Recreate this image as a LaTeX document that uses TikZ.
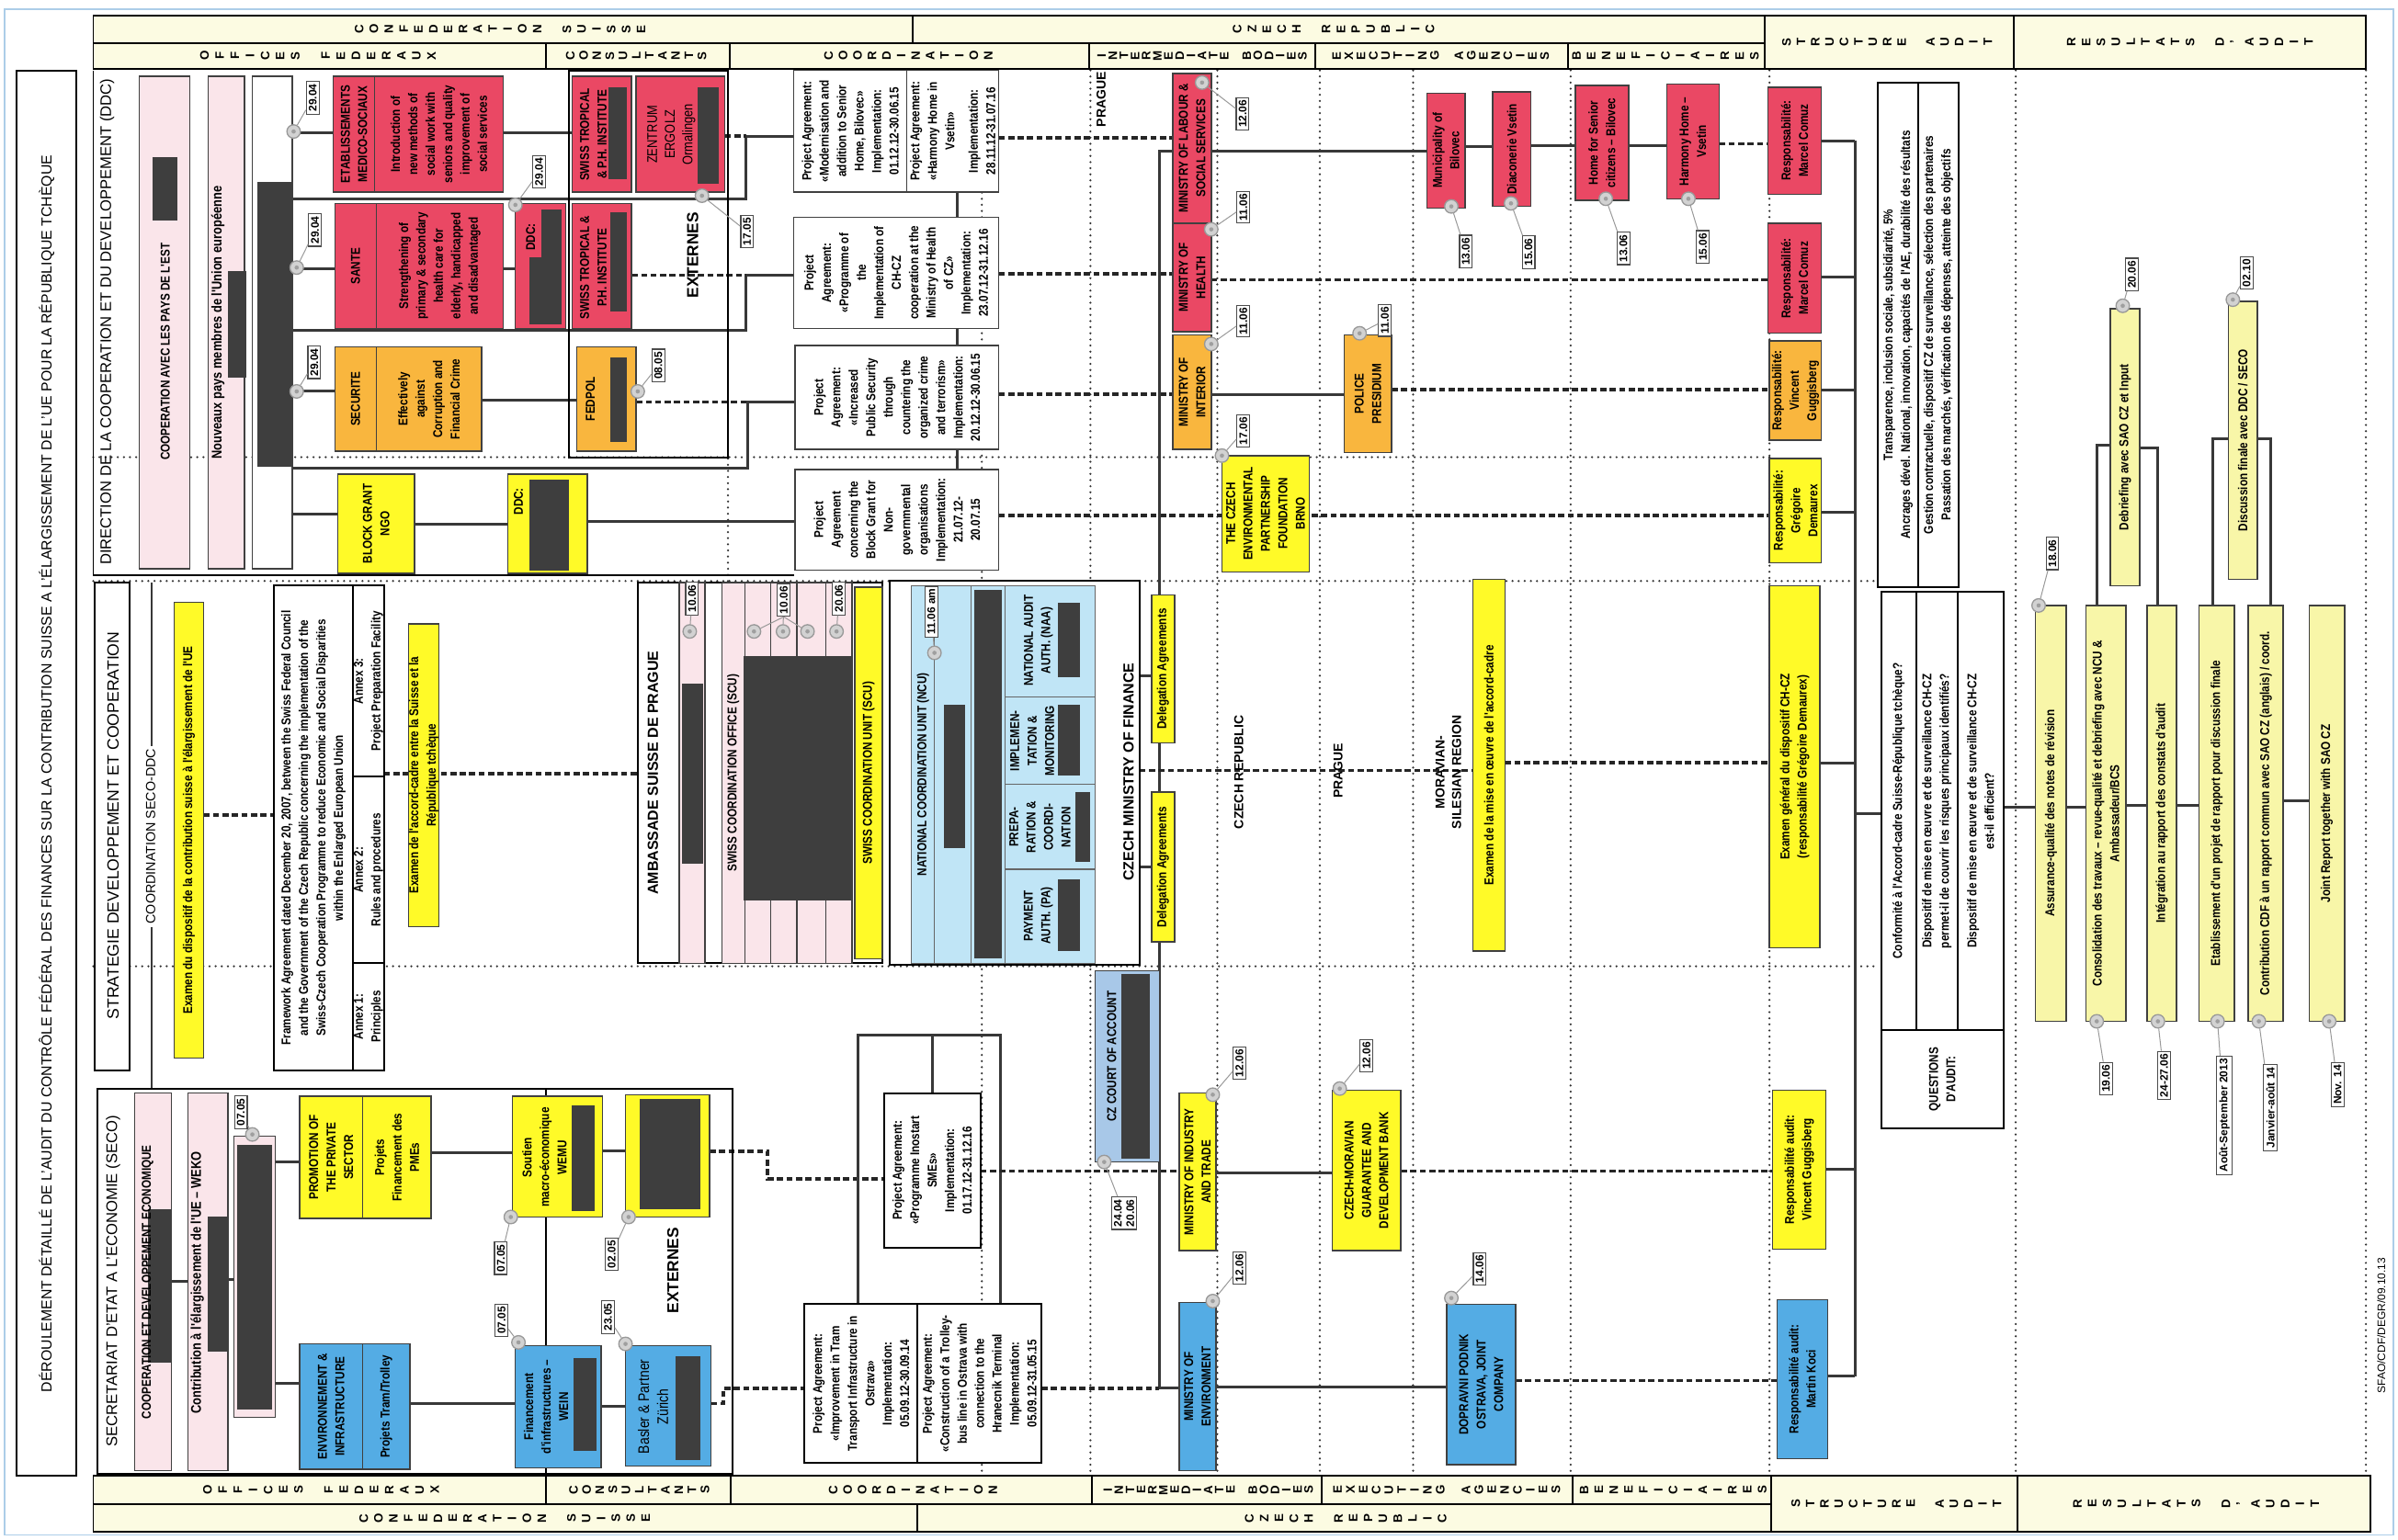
\documentclass[tikz,border=0pt]{standalone}
\usepackage{fontspec}
\setmainfont{Liberation Sans}
\newfontfamily\narrow[FakeStretch=0.84]{Liberation Sans}
\usetikzlibrary{fit}
\pgfdeclarelayer{bg}
\pgfsetlayers{bg,main}

\definecolor{hdrfill}{RGB}{252,251,226}
\definecolor{redfill}{RGB}{234,72,100}
\definecolor{orgfill}{RGB}{249,182,62}
\definecolor{yelfill}{RGB}{255,250,40}
\definecolor{palefill}{RGB}{248,246,168}
\definecolor{bluefill}{RGB}{84,172,228}
\definecolor{ltblue}{RGB}{192,229,246}
\definecolor{pinkfill}{RGB}{250,229,234}
\definecolor{courtfill}{RGB}{168,200,232}
\definecolor{redact}{RGB}{62,62,62}
\definecolor{scanblue}{RGB}{172,205,232}

\tikzset{
  frame/.style={draw=black, line width=0.6pt},
  hdrcell/.style={draw=black, line width=0.6pt, fill=hdrfill},
  hletter/.style={rotate=90, inner sep=0pt, font=\bfseries\fontsize{4}{4.4}\selectfont},
  bx/.style={draw=black!75, line width=0.45pt, inner sep=0pt, outer sep=0pt},
  grp/.style={draw=black, line width=0.6pt, fill=white},
  txt/.style={rotate=90, align=center, inner sep=0pt, font=\narrow\bfseries\fontsize{4.2}{5.7}\selectfont},
  big/.style={rotate=90, inner sep=0pt, font=\bfseries\fontsize{4.8}{5.5}\selectfont},
  band/.style={rotate=90, inner sep=0pt, font=\fontsize{5}{5.5}\selectfont},
  conn/.style={draw=black!78, line width=0.9pt},
  dconn/.style={draw=black!85, line width=1.1pt, dash pattern=on 2pt off 1.1pt},
  grid/.style={draw=black!80, line width=0.75pt, line cap=round, dash pattern=on 0pt off 2pt},
  thinl/.style={draw=black!60, line width=0.4pt},
  tack/.style={circle, draw=gray!80, fill=gray!35, line width=0.4pt, minimum size=4.4pt, inner sep=0pt,
    path picture={\fill[gray!75] (path picture bounding box.center) circle (0.7pt);}},
  datebox/.style={rotate=90, draw=black!70, fill=white, line width=0.35pt, inner sep=0.8pt,
    align=center, font=\bfseries\fontsize{3.6}{4}\selectfont},
  leader/.style={draw=gray!80, line width=0.3pt},
}

% box spanning two corners, with its text rotated at the centre
\newcommand\bx[5][]{%
  \node[bx,#1,fit={(#3) (#4)}] (#2) {};
  \node[txt] (#2-t) at (#2.center) {#5};}
% push pin with its date label
\newcommand\tackdate[6]{%
  \node[tack] (#1p) at (#2,#3) {};
  \node[datebox] (#1d) at (#4,#5) {#6};
  \draw[leader] (#1p) -- (#1d);}
% spaced, turned header letters
\newcommand\hdrtext[5]{%
  \foreach \c [count=\i] in {#5} {\xdef\hdrn{\i}}%
  \foreach \c [count=\i] in {#5}
    \node[hletter] (#1\i) at ({#2+(\i-(\hdrn+1)/2)*#4},#3) {\c};}

\begin{document}
\begin{tikzpicture}[x=0.5pt, y=-0.5pt]
\useasboundingbox (0,0) rectangle (1568,1007);

\draw[scanblue, line width=0.4pt] (3,6) rectangle (1565,1004);

% ---- header, top ----
\draw[hdrcell] (61,10) rectangle (597,28);
\draw[hdrcell] (597,10) rectangle (1154,28);
\draw[hdrcell] (1154,10) rectangle (1317,45);
\draw[hdrcell] (1317,10) rectangle (1547,45);
\foreach \xa/\xb in {61/357,357/477,477/712,712/860,860/1025,1025/1154}
  \draw[hdrcell] (\xa,28) rectangle (\xb,45);
\hdrtext{tA}{327}{19}{9.7}{C,O,N,F,E,D,E,R,A,T,I,O,N,{},S,U,I,S,S,E}
\hdrtext{tB}{872}{19}{9.7}{C,Z,E,C,H,{},R,E,P,U,B,L,I,C}
\hdrtext{tC}{1234}{27.5}{9.4}{S,T,R,U,C,T,U,R,E,{},A,U,D,I,T}
\hdrtext{tD}{1432}{27.5}{9.7}{R,E,S,U,L,T,A,T,S,{},D,',A,U,D,I,T}
\hdrtext{tE}{208}{36.5}{9.9}{O,F,F,I,C,E,S,{},F,E,D,E,R,A,U,X}
\hdrtext{tF}{416}{36.5}{8.6}{C,O,N,S,U,L,T,A,N,T,S}
\hdrtext{tG}{594}{36.5}{9.5}{C,O,O,R,D,I,N,A,T,I,O,N}
\hdrtext{tH}{786}{36.5}{7.3}{I,N,T,E,R,M,E,D,I,A,T,E,{},B,O,D,I,E,S}
\hdrtext{tI}{942}{36.5}{8}{E,X,E,C,U,T,I,N,G,{},A,G,E,N,C,I,E,S}
\hdrtext{tJ}{1089}{36.5}{9.7}{B,E,N,E,F,I,C,I,A,I,R,E,S}

% ---- header, bottom ----
\foreach \xa/\xb in {61/357,357/478,478/714,714/864,864/1028,1028/1158}
  \draw[hdrcell] (\xa,965) rectangle (\xb,984);
\draw[hdrcell] (61,984) rectangle (600,1002);
\draw[hdrcell] (600,984) rectangle (1158,1002);
\draw[hdrcell] (1158,965) rectangle (1319,1002);
\draw[hdrcell] (1319,965) rectangle (1550,1002);
\hdrtext{bA}{210}{974.5}{9.9}{O,F,F,I,C,E,S,{},F,E,D,E,R,A,U,X}
\hdrtext{bB}{418}{974.5}{8.6}{C,O,N,S,U,L,T,A,N,T,S}
\hdrtext{bC}{597}{974.5}{9.5}{C,O,O,R,D,I,N,A,T,I,O,N}
\hdrtext{bD}{790}{974.5}{7.3}{I,N,T,E,R,M,E,D,I,A,T,E,{},B,O,D,I,E,S}
\hdrtext{bE}{946}{974.5}{8.4}{E,X,E,C,U,T,I,N,G,{},A,G,E,N,C,I,E,S}
\hdrtext{bF}{1094}{974.5}{9.7}{B,E,N,E,F,I,C,I,A,I,R,E,S}
\hdrtext{bG}{330}{993}{9.7}{C,O,N,F,E,D,E,R,A,T,I,O,N,{},S,U,I,S,S,E}
\hdrtext{bH}{880}{993}{9.7}{C,Z,E,C,H,{},R,E,P,U,B,L,I,C}
\hdrtext{bI}{1240}{983.5}{9.4}{S,T,R,U,C,T,U,R,E,{},A,U,D,I,T}
\hdrtext{bJ}{1436}{983.5}{9.7}{R,E,S,U,L,T,A,T,S,{},D,',A,U,D,I,T}

% ---- title ----
\node[grp, inner sep=0pt, fit={(11,46) (50,965)}] (titlebox) {};
\node[rotate=90, font=\fontsize{4.75}{5.3}\selectfont] (title) at (30.5,506)
  {DÉROULEMENT DÉTAILLÉ DE L'AUDIT DU CONTRÔLE FÉDÉRAL DES FINANCES SUR LA CONTRIBUTION SUISSE A L'ÉLARGISSEMENT DE L'UE POUR LA RÉPUBLIQUE TCHÈQUE};

% ---- DDC band ----
\draw[frame] (61,46) -- (61,376) -- (519,376);
\node[grp, fill=none, inner sep=0pt, fit={(372,46) (476,299)}] (extddc) {};
\node[band, anchor=east] (ddc-l) at (70,51) {DIRECTION DE LA COOPERATION ET DU DEVELOPPEMENT (DDC)};
\bx[fill=pinkfill]{ddcpk1}{91,50}{124,372}{}
\fill[redact] (100,103) rectangle (116,144);
\node[txt] (ddcpk1-l) at (108,230) {COOPERATION AVEC LES PAYS DE L'EST};
\bx[fill=pinkfill]{ddcpk2}{136,50}{160,372}{}
\node[txt, font=\narrow\bfseries\fontsize{4.6}{5}\selectfont] (ddcpk2-l) at (142.5,211) {Nouveaux pays membres de l'Union européenne};
\fill[redact] (149,177) rectangle (161,247);
\bx[fill=white]{ddcbox}{165,50}{191,372}{}
\fill[redact] (168,119) rectangle (191,305);

\bx[fill=redfill]{etabA}{218,50}{245,125.5}{ETABLISSEMENTS\\MEDICO-SOCIAUX}
\bx[fill=redfill]{etabB}{245,50}{329,125.5}{Introduction of\\new methods of\\social work with\\seniors and quality\\improvement of\\social services}
\bx[fill=redfill]{santeA}{219,133}{246,215}{SANTE}
\bx[fill=redfill]{santeB}{246,133}{329,215}{Strengthening of\\primary \& secondary\\health care for\\elderly, handicapped\\and disadvantaged}
\bx[fill=redfill]{ddc2}{337,133}{370,215}{}
\fill[redact] (354,137) rectangle (367,170);
\fill[redact] (346,168) rectangle (367,212);
\node[txt] (ddc2-l) at (347,155) {DDC:};
\bx[fill=orgfill]{secA}{219,227}{246,295}{SECURITE}
\bx[fill=orgfill]{secB}{246,227}{315,295}{Effectively\\against\\Corruption and\\Financial Crime}
\bx[fill=yelfill]{bgrant}{221,310}{271,375}{BLOCK GRANT\\NGO}
\bx[fill=yelfill]{ddc4}{332,310}{384,375}{}
\fill[redact] (346,314) rectangle (372,373);
\node[txt] (ddc4-l) at (339,328) {DDC:};

\bx[fill=redfill]{swt1}{374,50}{413,125.5}{}
\node[txt] (swt1-l) at (388,88) {SWISS TROPICAL\\\& P.H. INSTITUTE};
\fill[redact] (398,57) rectangle (410,117);
\bx[fill=redfill]{zentrum}{416,50}{474,125.5}{}
\node[txt, font=\narrow\fontsize{4.6}{5.8}\selectfont] (zentrum-l) at (439,88) {ZENTRUM\\ERGOLZ\\Ormalingen};
\fill[redact] (456,57) rectangle (470,120);
\bx[fill=redfill]{swt2}{374,133}{413,215}{}
\node[txt] (swt2-l) at (388,175) {SWISS TROPICAL \&\\P.H. INSTITUTE};
\fill[redact] (399,139) rectangle (410,204);
\bx[fill=orgfill]{fedpol}{377,227}{416,295}{}
\node[txt] (fedpol-l) at (386,261) {FEDPOL};
\fill[redact] (399,234) rectangle (410,289);
\node[big, font=\bfseries\fontsize{5.2}{6}\selectfont] (extddc-l) at (453,167) {EXTERNES};

\bx[fill=white]{pa1}{519,46}{593,125.5}{Project Agreement:\\«Modernisation and\\addition to Senior\\Home, Bilovec»\\Implementation:\\01.12.12-30.06.15}
\bx[fill=white]{pa2}{593,46}{653,125.5}{Project Agreement:\\«Harmony Home in\\Vsetin»\\[2pt]Implementation:\\28.11.12-31.07.16}
\bx[fill=white]{pa3}{519,142}{653,215}{Project\\Agreement:\\«Programme of\\the\\Implementation of\\CH-CZ\\cooperation at the\\Ministry of Health\\of CZ»\\Implementation:\\23.07.12-31.12.16}
\bx[fill=white]{pa4}{520,226}{653,294}{Project\\Agreement:\\«Increased\\Public Security\\through\\countering the\\organized crime\\and terrorism»\\Implementation:\\20.12.12-30.06.15}
\bx[fill=white]{pa5}{520,307}{653,373}{Project\\Agreement\\concerning the\\Block Grant for\\Non-\\governmental\\organisations\\Implementation:\\21.07.12-\\20.07.15}

\node[rotate=90, font=\bfseries\fontsize{4.2}{5}\selectfont] (prague1) at (720,65) {PRAGUE};
\bx[fill=redfill]{mlab}{767,48}{792,146}{MINISTRY OF LABOUR \&\\SOCIAL SERVICES}
\bx[fill=redfill]{mhealth}{767,146}{792,217}{MINISTRY OF\\HEALTH}
\bx[fill=orgfill]{mint}{767,219}{792,294}{MINISTRY OF\\INTERIOR}
\bx[fill=yelfill]{czenv}{799,298}{856,374}{THE CZECH\\ENVIRONMENTAL\\PARTNERSHIP\\FOUNDATION\\BRNO}
\bx[fill=orgfill]{police}{879,219}{910,296}{POLICE\\PRESIDIUM}
\bx[fill=redfill]{muni}{933,61}{958,136}{Municipality of\\Bilovec}
\bx[fill=redfill]{diac}{976,60}{1001,135}{Diaconerie Vsetin}
\bx[fill=redfill]{home}{1030,56}{1065,131}{Home for Senior\\citizens – Bilovec}
\bx[fill=redfill]{harm}{1090,55}{1124,130}{Harmony Home –\\Vsetin}

% ---- structure audit ----
\bx[fill=redfill]{resp1}{1156,57}{1191,127}{Responsabilité:\\Marcel Comuz}
\bx[fill=redfill]{resp2}{1156,146}{1191,218}{Responsabilité:\\Marcel Comuz}
\bx[fill=orgfill]{resp3}{1157,223}{1191,288}{Responsabilité:\\Vincent\\Guggisberg}
\bx[fill=yelfill]{resp4}{1157,300}{1191,368}{Responsabilité:\\Grégoire\\Demaurex}
\bx[fill=yelfill]{examg}{1157,383}{1190,620}{Examen général du dispositif CH-CZ\\(responsabilité Grégoire Demaurex)}
\bx[fill=yelfill]{respV}{1159,713}{1194,817}{Responsabilité audit:\\Vincent Guggisberg}
\bx[fill=bluefill]{respM}{1162,850}{1195,954}{Responsabilité audit:\\Martin Koci}

\node[grp, inner sep=0pt, fit={(1228,54) (1281,384)}] (crit) {};
\draw[frame] (crit.north -| 1254,0) -- (crit.south -| 1254,0);
\node[txt] (crit-a) at (1241,219) {Transparence, inclusion sociale, subsidiarité, 5\%\\Ancrages dével. National, innovation, capacités de l'AE, durabilité  des résultats};
\node[txt] (crit-b) at (1267.5,219) {Gestion contractuelle, dispositif CZ de surveillance, sélection des partenaires\\Passation des marchés, vérification des dépenses, atteinte des objectifs};

\node[grp, inner sep=0pt, fit={(1230,387) (1310,738)}] (quest) {};
\draw[frame] (1230,674) -- (1310,674) (1253,387) -- (1253,674) (1280,387) -- (1280,674);
\node[txt] (q1) at (1241.5,530.5) {Conformité à l'Accord-cadre Suisse-République tchèque?};
\node[txt] (q2) at (1266.5,530.5) {Dispositif de mise en œuvre et de surveillance CH-CZ\\permet-il de couvrir les risques principaux identifiés?};
\node[txt] (q3) at (1295,530.5) {Dispositif de mise en œuvre et de surveillance CH-CZ\\est-il efficient?};
\node[txt] (qh) at (1270,706) {QUESTIONS\\D'AUDIT:};

% ---- resultats d'audit ----
\bx[fill=palefill]{debr}{1380,202}{1399,383}{Debriefing avec SAO CZ et Input}
\bx[fill=palefill]{disc}{1457,197}{1476,379}{Discussion finale avec DDC / SECO}
\bx[fill=palefill]{r1}{1331,396}{1351,668}{Assurance-qualité des notes de révision}
\bx[fill=palefill]{r2}{1364,396}{1390,668}{Consolidation des travaux – revue-qualité et debriefing avec NCU \&\\Ambassadeur/BCS}
\bx[fill=palefill]{r3}{1404,396}{1423,668}{Intégration au rapport des constats d'audit}
\bx[fill=palefill]{r4}{1438,396}{1461,668}{Etablissement d'un projet de rapport pour discussion finale}
\bx[fill=palefill]{r5}{1470,396}{1493,668}{Contribution CDF à un rapport commun avec SAO CZ (anglais) / coord.}
\bx[fill=palefill]{r6}{1510,396}{1533,668}{Joint Report together with SAO CZ}

% ---- strategie band ----
\node[grp, inner sep=0pt, fit={(62,381) (85,700)}] (strat) {};
\node[band, font=\fontsize{5.3}{5.8}\selectfont] (strat-l) at (74,540) {STRATEGIE DEVELOPPEMENT ET COOPERATION};
\node[band, fill=white, inner sep=1pt, font=\fontsize{4.3}{5}\selectfont] (coord) at (98.5,547) {COORDINATION SECO-DDC};
\bx[fill=yelfill]{exam1}{114,394}{133,692}{Examen du dispositif de la contribution suisse à l'élargissement de l'UE}
\bx[grp]{fwk}{179,383}{231,700}{Framework Agreement dated December 20, 2007, between the Swiss Federal Council\\and the Government of the Czech Republic concerning the implementation of the\\Swiss-Czech Cooperation Programme to reduce Economic and Social Disparities\\within the Enlarged European Union}
\bx[grp]{an3}{231,383}{251,508}{Annex 3:\\Project Preparation Facility}
\bx[grp]{an2}{231,508}{251,630}{Annex 2:\\Rules and procedures}
\bx[grp]{an1}{231,630}{251,700}{Annex 1:\\Principles}
\bx[fill=yelfill]{exam2}{267,408}{287,606}{Examen de l'accord-cadre entre la Suisse et la\\République tchèque}

\bx[grp]{amb}{417,381}{577,630}{}
\node[big] (amb-l) at (427,505.5) {AMBASSADE SUISSE DE PRAGUE};
\bx[fill=pinkfill]{ambp1}{444,381}{461,630}{}
\fill[redact] (446,447) rectangle (460,565);
\bx[fill=pinkfill]{sco}{472,381}{487,630}{SWISS COORDINATION OFFICE (SCU)}
\foreach \xa/\xb [count=\k] in {487/504,504/521,521/540,540/557}
  {\bx[fill=pinkfill]{scop\k}{\xa,381}{\xb,630}{}}
\fill[redact] (486,429) rectangle (558,589);
\bx[fill=yelfill]{scu}{559,384}{577,627}{SWISS COORDINATION UNIT (SCU)}

\bx[grp]{cmf}{582,380}{745,631}{}
\node[big] (cmf-l) at (738,505) {CZECH MINISTRY OF FINANCE};
\bx[fill=ltblue, draw=black!60]{ncu}{596,383}{716,630}{}
\draw[thinl] (611,383) -- (611,630) (635,383) -- (635,630) (657,383) -- (657,630)
  (657,456) -- (716,456) (657,513) -- (716,513) (657,568.6) -- (716,568.6);
\node[txt] (ncu-l) at (603.5,506.5) {NATIONAL COORDINATION UNIT (NCU)};
\fill[redact] (617,461) rectangle (631,555);
\fill[redact] (637,386) rectangle (655,627);
\node[txt] (naa) at (679,419) {NATIONAL AUDIT\\AUTH. (NAA)};
\fill[redact] (692,394) rectangle (706,443);
\node[txt] (impl) at (675,484.5) {IMPLEMEN-\\TATION \&\\MONITORING};
\fill[redact] (692,461) rectangle (706,507);
\node[txt] (prep) at (680,541) {PREPA-\\RATION \&\\COORDI-\\NATION};
\fill[redact] (703,518) rectangle (713,564);
\node[txt] (pay) at (679,599) {PAYMENT\\AUTH. (PA)};
\fill[redact] (692,575) rectangle (706,622);
\bx[fill=yelfill]{deleg1}{753,389}{768,486}{Delegation Agreements}
\bx[fill=yelfill]{deleg2}{753,518}{768,616}{Delegation Agreements}

\node[rotate=90, font=\bfseries\fontsize{4.2}{5}\selectfont] (czr) at (810,505) {CZECH REPUBLIC};
\node[rotate=90, font=\bfseries\fontsize{4.2}{5}\selectfont] (prague2) at (875,504) {PRAGUE};
\node[rotate=90, align=center, font=\bfseries\fontsize{4.2}{5.4}\selectfont] (msr) at (947,505) {MORAVIAN-\\SILESIAN REGION};
\bx[fill=yelfill]{mise}{963,379}{984,622}{Examen de la mise en œuvre de l'accord-cadre}

\bx[fill=courtfill]{court}{716,635}{758,760}{}
\node[txt] (court-l) at (727,691) {CZ COURT OF ACCOUNT};
\fill[redact] (733,637) rectangle (752,758);

% ---- SECO band ----
\draw[frame] (64,712) rectangle (479,964);
\draw[frame] (357,712) -- (357,964);
\node[band] (seco-l) at (74,838) {SECRETARIAT D'ETAT A L'ECONOMIE (SECO)};
\bx[fill=pinkfill]{secpkA}{88,715}{112,962}{}
\fill[redact] (97,791) rectangle (112,891);
\node[txt] (secpkA-l) at (96.5,838.5) {COOPERATION ET DEVELOPPEMENT ECONOMIQUE};
\bx[fill=pinkfill]{secpkB}{123,715}{149,962}{}
\fill[redact] (136,796) rectangle (149,884);
\node[txt, font=\narrow\bfseries\fontsize{4.6}{5}\selectfont] (secpkB-l) at (129,839) {Contribution à l'élargissement de l'UE – WEKO};
\bx[fill=pinkfill]{secpkC}{153,743}{180,927}{}
\fill[redact] (155,749) rectangle (178,922);
\bx[fill=yelfill]{promA}{196,717}{237,797}{PROMOTION OF\\THE PRIVATE\\SECTOR}
\bx[fill=yelfill]{promB}{237,717}{282,797}{Projets\\Financement des\\PMEs}
\bx[fill=bluefill]{envA}{196,879}{237,961}{ENVIRONNEMENT \&\\INFRASTRUCTURE}
\bx[fill=bluefill]{envB}{237,879}{268,961}{Projets Tram/Trolley}
\bx[fill=yelfill]{wemu}{335,717}{394,796}{}
\node[txt] (wemu-l) at (356,757) {Soutien\\macro-économique\\WEMU};
\fill[redact] (374,723) rectangle (389,792);
\bx[fill=bluefill]{wein}{337,880}{393,960}{}
\node[txt] (wein-l) at (357,920) {Financement\\d'infrastructures –\\WEIN};
\fill[redact] (375,888) rectangle (390,949);
\bx[fill=yelfill]{extbox}{409,716}{464,796}{}
\fill[redact] (418,719) rectangle (458,791);
\node[big, font=\bfseries\fontsize{5.2}{6}\selectfont] (extseco-l) at (440,831) {EXTERNES};
\bx[fill=bluefill]{basler}{409,880}{465,959}{}
\node[txt, font=\narrow\fontsize{5}{6.2}\selectfont] (basler-l) at (427,920) {Basler \& Partner\\Zürich};
\fill[redact] (442,887) rectangle (458,955);

\bx[grp]{inostart}{578,715}{641,816}{Project Agreement:\\«Programme Inostart\\SMEs»\\Implementation:\\01.17.12-31.12.16}
\bx[grp]{patram}{526,853}{600,957}{Project Agreement:\\«Improvement in Tram\\Transport Infrastructure in\\Ostrava»\\Implementation:\\05.09.12-30.09.14}
\bx[grp]{patrol}{600,853}{681,957}{Project Agreement:\\«Construction of a Trolley-\\bus line in Ostrava with\\connection to the\\Hranecnik Terminal\\Implementation:\\05.09.12-31.05.15}
\bx[fill=yelfill]{mind}{771,715}{795,818}{MINISTRY OF INDUSTRY\\AND TRADE}
\bx[fill=bluefill]{menv}{771,852}{795,962}{MINISTRY OF\\ENVIRONMENT}
\bx[fill=yelfill]{cmbank}{871,713}{916,818}{CZECH-MORAVIAN\\GUARANTEE AND\\DEVELOPMENT BANK}
\bx[fill=bluefill]{dopr}{946,853}{991,958}{DOPRAVNI PODNIK\\OSTRAVA, JOINT\\COMPANY}

\node[rotate=90, font=\fontsize{3.6}{4}\selectfont] (sfao) at (1557,867) {SFAO/CDF/DEGR/09.10.13};

% ---- grid and connectors, behind the boxes ----
\begin{pgfonlayer}{bg}
\foreach \gx in {642,713,796,863,924,1027,1157,1318,1547} \draw[grid] (\gx,46) -- (\gx,965);
\draw[grid] (476,300) -- (476,380);
\foreach \gy in {380,632} \draw[grid] (61,\gy) -- (1228,\gy);
\draw[grid] (61,299) -- (1157,299);

% DDC
\draw[conn] (ddcbox.east |- 0,87) -- (etabA.west |- 0,87);
\draw[conn] (ddcbox.east |- 0,176) -- (santeA.west |- 0,176);
\draw[conn] (ddcbox.east |- 0,256) -- (secA.west |- 0,256);
\draw[conn] (ddcbox.east |- 0,336) -- (bgrant.west |- 0,336);
\draw[conn] (ddcbox.east |- 0,130) -| (488,89) -- (pa1.west |- 0,89);
\draw[conn] (ddcbox.east |- 0,216) -| (488,180) -- (pa3.west |- 0,180);
\draw[conn] (ddcbox.east |- 0,306) -| (489,263) -- (pa4.west |- 0,263);
\draw[conn] (etabB.east |- 0,87) -- (swt1.west |- 0,87);
\draw[conn] (santeB.east |- 0,176) -- (ddc2.west |- 0,176);
\draw[conn] (secB.east |- 0,262) -- (fedpol.west |- 0,262);
\draw[conn] (bgrant.east |- 0,343) -- (ddc4.west |- 0,343);
\draw[conn] (ddc4.east |- 0,341) -- (pa5.west |- 0,341);
\draw[dconn] (zentrum.east |- 0,89) -- (488,89);
\draw[dconn] (swt2.east |- 0,180) -- (488,180);
\draw[dconn] (fedpol.east |- 0,263) -- (489,263);
\draw[conn] (pa1.south -| 626,0) -- (pa5.north -| 626,0);

% Czech side
\draw[dconn] (pa2.east |- 0,90) -- (mlab.west |- 0,90);
\draw[dconn] (pa3.east |- 0,179) -- (mhealth.west |- 0,179);
\draw[dconn] (pa4.east |- 0,258) -- (mint.west |- 0,258);
\draw[dconn] (pa5.east |- 0,337) -- (resp4.west |- 0,337);
\draw[conn] (mlab.west |- 0,99) -- (758,99) -- (758,908) -- (menv.west |- 0,908);
\draw[conn] (mlab.east |- 0,99) -- (muni.west |- 0,99);
\draw[conn] (muni.east |- 0,96) -- (diac.west |- 0,96);
\draw[conn] (diac.east |- 0,95) -- (home.west |- 0,95);
\draw[conn] (home.east |- 0,95) -- (harm.west |- 0,95);
\draw[dconn] (harm.east |- 0,94) -- (resp1.west |- 0,94);
\draw[dconn] (mhealth.east |- 0,183) -- (resp2.west |- 0,183);
\draw[conn] (mint.east |- 0,258) -- (police.west |- 0,258);
\draw[dconn] (police.east |- 0,255) -- (resp3.west |- 0,255);

% structure audit trunk
\draw[conn] (1213,92) -- (1213,900);
\foreach \ry/\rn in {92/resp1,181/resp2,255/resp3,335/resp4,499/examg,765/respV,900/respM}
  \draw[conn] (\rn.east |- 0,\ry) -- (1213,\ry);
\draw[conn] (1213,532) -- (quest.west |- 0,532);

% resultats
\draw[conn] (quest.east |- 0,528) -- (r1.west |- 0,528);
\draw[conn] (r1.east |- 0,528) -- (r2.west |- 0,528);
\draw[conn] (r2.east |- 0,527) -- (r3.west |- 0,527);
\draw[conn] (r3.east |- 0,527) -- (r4.west |- 0,527);
\draw[conn] (r5.east |- 0,524) -- (r6.west |- 0,524);
\draw[conn] (r2.north -| 1371,0) |- (debr.west |- 0,291);
\draw[conn] (debr.east |- 0,293) -| (r3.north -| 1411,0);
\draw[conn] (r4.north -| 1447,0) |- (disc.west |- 0,287);
\draw[conn] (disc.east |- 0,287) -| (r5.north -| 1485,0);

% strategie
\draw[conn, line width=0.5pt] (99,381) -- (99,712);
\draw[dconn] (exam1.east |- 0,533) -- (fwk.west |- 0,533);
\draw[dconn] (an3.east |- 0,506) -- (amb.west |- 0,506);
\draw[dconn] (cmf.east |- 0,504) -- (mise.west |- 0,504);
\draw[dconn] (mise.east |- 0,499) -- (examg.west |- 0,499);
\draw[conn] (cmf.east |- 0,442) -- (deleg1.west |- 0,442);
\draw[conn] (cmf.east |- 0,567) -- (deleg2.west |- 0,567);

% SECO
\draw[conn] (secpkA.east |- 0,838) -- (secpkB.west |- 0,838);
\draw[conn] (secpkB.east |- 0,837) -- (secpkC.west |- 0,837);
\draw[conn] (secpkC.east |- 0,760) -- (promA.west |- 0,760);
\draw[conn] (secpkC.east |- 0,905) -- (envA.west |- 0,905);
\draw[conn] (promB.east |- 0,754) -- (wemu.west |- 0,754);
\draw[conn] (envB.east |- 0,918) -- (wein.west |- 0,918);
\draw[conn] (wemu.east |- 0,753) -- (extbox.west |- 0,753);
\draw[conn] (wein.east |- 0,920) -- (basler.west |- 0,920);
\draw[dconn] (extbox.east |- 0,753) -| (502,771) -- (inostart.west |- 0,771);
\draw[dconn] (basler.east |- 0,918) -| (473,908) -- (patram.west |- 0,908);
\draw[conn] (patram.north -| 561,0) |- (654,677) -- (patrol.north -| 654,0);
\draw[conn] (inostart.north) -- (inostart.north |- 0,677);
\draw[dconn] (inostart.east |- 0,766) -- (mind.west |- 0,766);
\draw[dconn] (patrol.east |- 0,908) -- (758,908);
\draw[conn] (mind.east |- 0,767) -- (cmbank.west |- 0,767);
\draw[dconn] (cmbank.east |- 0,766) -- (respV.west |- 0,766);
\draw[conn] (menv.east |- 0,907) -- (dopr.west |- 0,907);
\draw[dconn] (dopr.east |- 0,903) -- (respM.west |- 0,903);
\end{pgfonlayer}

% ---- pins and dates ----
\tackdate{t1}{192}{86}{204.5}{64}{29.04}
\tackdate{t2}{194}{175}{206}{150.5}{29.04}
\tackdate{t3}{194}{256}{205.5}{237}{29.04}
\tackdate{t4}{337}{134}{352.5}{112.5}{29.04}
\tackdate{t5}{459}{128}{488.5}{151.5}{17.05}
\tackdate{t6}{417}{256}{430.5}{239}{08.05}
\tackdate{t7}{786}{54}{812.5}{74.5}{12.06}
\tackdate{t8}{792}{150}{813}{135.5}{11.06}
\tackdate{t9}{792}{225}{813}{210}{11.06}
\tackdate{t10}{799}{298}{813}{282}{17.06}
\tackdate{t11}{889}{218}{905.5}{209.5}{11.06}
\tackdate{t12}{949}{135}{958.5}{164.5}{13.06}
\tackdate{t13}{988}{133}{999.5}{165}{15.06}
\tackdate{t14}{1050}{130}{1061.5}{162.5}{13.06}
\tackdate{t15}{1104}{130}{1113.5}{161.5}{15.06}
\tackdate{t16}{1388}{200}{1394}{179.5}{20.06}
\tackdate{t17}{1460}{196}{1469}{178.5}{02.10}
\tackdate{t18}{1333}{396}{1342}{362}{18.06}
\tackdate{t19}{1371}{668}{1377}{705.5}{19.06}
\tackdate{t20}{1411}{668}{1415}{703.5}{24-27.06}
\tackdate{t21}{1450}{668}{1454.5}{729.5}{Août-September 2013}
\tackdate{t22}{1477}{668}{1484.5}{724.5}{Janvier-août 14}
\tackdate{t23}{1523}{668}{1528.5}{709.5}{Nov. 14}
\tackdate{t24}{451}{413}{452.5}{391.5}{10.06}
\tackdate{t25}{512}{413}{512.5}{392.5}{10.06}
\node[tack] (t25b) at (493,413) {};
\node[tack] (t25c) at (528,413) {};
\draw[leader] (t25b) -- (t25d.west) (t25c) -- (t25d.west);
\tackdate{t26}{547}{413}{548.5}{391.5}{20.06}
\tackdate{t27}{611}{427}{609}{400}{11.06 am}
\tackdate{t28}{165}{742}{157.5}{727.5}{07.05}
\tackdate{t29}{334}{796}{327.5}{823}{07.05}
\tackdate{t30}{339}{878}{328}{863.5}{07.05}
\tackdate{t31}{411}{796}{400}{820.5}{02.05}
\tackdate{t32}{409}{879}{397.5}{861.5}{23.05}
\tackdate{t33}{722}{760}{735}{793.5}{24.04\\20.06}
\tackdate{t34}{793}{716}{810.5}{695.5}{12.06}
\tackdate{t35}{793}{851}{810.5}{829.5}{12.06}
\tackdate{t36}{876}{712}{893.5}{690.5}{12.06}
\tackdate{t37}{949}{849}{967.5}{830}{14.06}

\end{tikzpicture}
\end{document}
